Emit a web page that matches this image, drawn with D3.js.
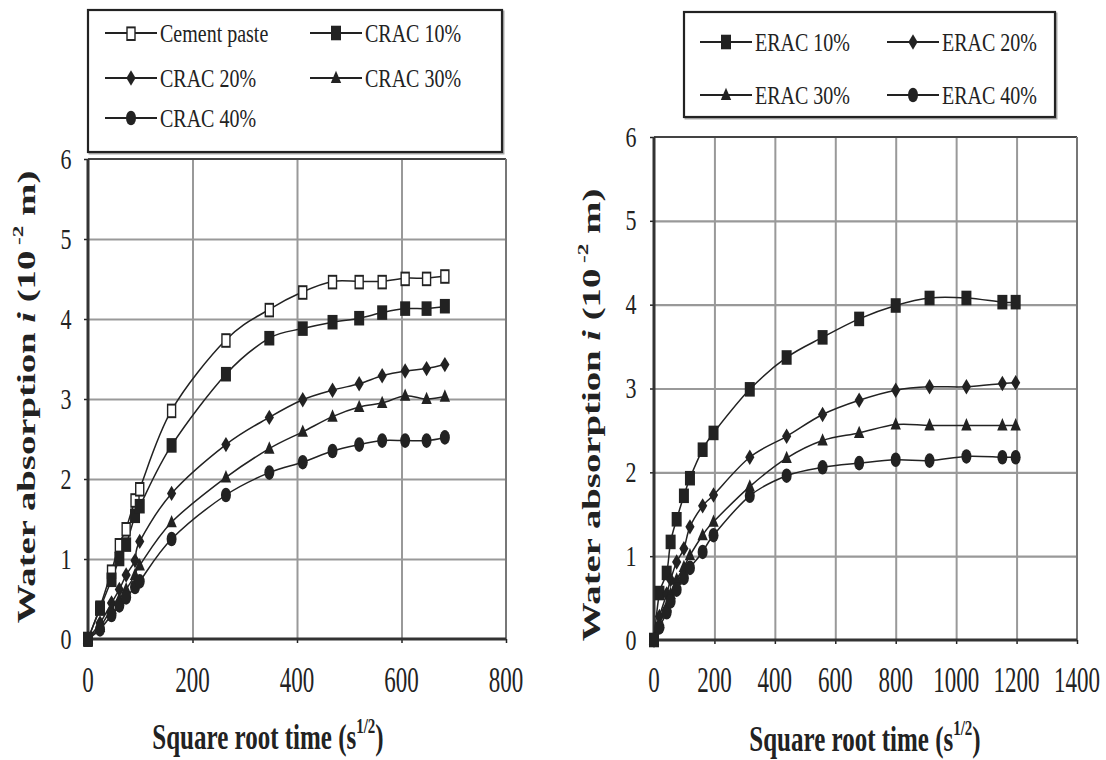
<!DOCTYPE html>
<html><head><meta charset="utf-8">
<script src="https://cdn.jsdelivr.net/npm/d3@7"></script>
<style>
html,body{margin:0;padding:0;background:#fff;}
svg{display:block;font-family:"Liberation Serif","Times New Roman",serif;}
</style></head>
<body><svg id="c" width="1106" height="760"></svg>
<script>
// ---------- DATA ----------
// Left panel (CRAC)
const leftX = [0, 23, 45, 60, 73, 90, 99, 160, 264, 347, 411, 468, 519, 563, 607, 648, 683];
const cementPaste = [0, 0.40, 0.85, 1.18, 1.38, 1.74, 1.88, 2.86, 3.74, 4.12, 4.34, 4.47, 4.47, 4.47, 4.51, 4.51, 4.54];
const crac10 = [0, 0.38, 0.74, 1.00, 1.18, 1.54, 1.66, 2.42, 3.31, 3.76, 3.88, 3.96, 4.01, 4.08, 4.13, 4.13, 4.16];
const crac20 = [0, 0.20, 0.45, 0.62, 0.80, 0.98, 1.22, 1.82, 2.43, 2.77, 2.99, 3.11, 3.19, 3.29, 3.35, 3.38, 3.43];
const crac30 = [0, 0.15, 0.38, 0.50, 0.62, 0.80, 0.92, 1.46, 2.02, 2.38, 2.59, 2.78, 2.90, 2.95, 3.04, 3.00, 3.03];
const crac40 = [0, 0.12, 0.30, 0.42, 0.52, 0.65, 0.72, 1.25, 1.80, 2.08, 2.21, 2.35, 2.43, 2.48, 2.48, 2.48, 2.52];
const leftNames = ["Cement paste", "CRAC 10%", "CRAC 20%", "CRAC 30%", "CRAC 40%"];
const leftMarkers = ["openSquare", "square", "diamond", "triangle", "circle"];

// Right panel (ERAC)
const rightX = [0, 18, 42, 55, 75, 99, 119, 161, 197, 317, 439, 558, 679, 800, 912, 1034, 1153, 1197];
const erac10 = [0, 0.56, 0.80, 1.17, 1.44, 1.72, 1.93, 2.27, 2.47, 2.99, 3.37, 3.61, 3.83, 3.99, 4.08, 4.08, 4.03, 4.03];
const erac20 = [0, 0.28, 0.55, 0.72, 0.93, 1.09, 1.35, 1.60, 1.73, 2.18, 2.43, 2.69, 2.86, 2.98, 3.02, 3.02, 3.06, 3.07];
const erac30 = [0, 0.20, 0.40, 0.55, 0.72, 0.87, 1.01, 1.25, 1.41, 1.83, 2.17, 2.38, 2.47, 2.57, 2.56, 2.56, 2.56, 2.56];
const erac40 = [0, 0.15, 0.33, 0.46, 0.60, 0.74, 0.86, 1.05, 1.25, 1.72, 1.96, 2.06, 2.11, 2.15, 2.14, 2.19, 2.18, 2.18];
const rightNames = ["ERAC 10%", "ERAC 20%", "ERAC 30%", "ERAC 40%"];
const rightMarkers = ["square", "diamond", "triangle", "circle"];

const leftXTicks = [0, 200, 400, 600, 800];
const rightXTicks = [0, 200, 400, 600, 800, 1000, 1200, 1400];
const yTicks = [0, 1, 2, 3, 4, 5, 6];
const xTitle = "Square root time (s";
const xTitleSup = "1/2";

// ---------- DRAW ----------
const svg = d3.select("#c");
const INK = "#222";
const GRID = "#999";

function marker(g, type, x, y) {
  const t = `translate(${x},${y}) scale(1,1.4)`;
  if (type === "openSquare") {
    g.append("rect").attr("x", -4).attr("y", -4).attr("width", 8).attr("height", 9)
      .attr("transform", t).attr("fill", "#fff").attr("stroke", INK).attr("stroke-width", 1.4);
  } else if (type === "square") {
    g.append("rect").attr("x", -5).attr("y", -5.2).attr("width", 10).attr("height", 10.4)
      .attr("transform", t).attr("fill", INK);
  } else if (type === "diamond") {
    g.append("path").attr("d", "M0,-5.5L4.6,0L0,5.5L-4.6,0Z").attr("transform", t).attr("fill", INK);
  } else if (type === "triangle") {
    g.append("path").attr("d", "M0,-5.2L5.2,3.6L-5.2,3.6Z").attr("transform", t).attr("fill", INK);
  } else if (type === "circle") {
    g.append("ellipse").attr("rx", 5).attr("ry", 5.2).attr("transform", t).attr("fill", INK);
  }
}

function panel(cfg) {
  const { x, y, xTicks, series, names, markers, xs, yLabelX, xLabelY, titleX, titleY, yTitleX, yTitleY } = cfg;
  const g = svg.append("g");
  const [x0, x1] = x.range();
  const [y0, y1] = y.range(); // y0 bottom, y1 top
  // plot bg
  g.append("rect").attr("x", x0).attr("y", y1).attr("width", x1 - x0).attr("height", y0 - y1)
    .attr("fill", "#fff");
  // gridlines
  g.append("g").attr("transform", `translate(0,${y0})`)
    .call(d3.axisBottom(x).tickValues(xTicks.slice(1, -1)).tickSize(-(y0 - y1)).tickFormat(""))
    .call(s => s.select(".domain").remove())
    .call(s => s.selectAll("line").attr("stroke", GRID).attr("stroke-width", 2));
  g.append("g").attr("transform", `translate(${x0},0)`)
    .call(d3.axisLeft(y).tickValues(yTicks.slice(1, -1)).tickSize(-(x1 - x0)).tickFormat(""))
    .call(s => s.select(".domain").remove())
    .call(s => s.selectAll("line").attr("stroke", GRID).attr("stroke-width", 2.2));
  // small outer ticks
  g.append("g").attr("transform", `translate(${x0},0)`)
    .call(d3.axisLeft(y).tickValues(yTicks).tickSize(4).tickFormat(""))
    .call(s => s.select(".domain").remove())
    .call(s => s.selectAll("line").attr("stroke", INK).attr("stroke-width", 1.5));
  g.append("g").attr("transform", `translate(0,${y0})`)
    .call(d3.axisBottom(x).tickValues(xTicks).tickSize(4).tickFormat(""))
    .call(s => s.select(".domain").remove())
    .call(s => s.selectAll("line").attr("stroke", INK).attr("stroke-width", 1.5));
  // frame
  g.append("line").attr("x1", x0).attr("x2", x1).attr("y1", y1).attr("y2", y1)
    .attr("stroke", "#444").attr("stroke-width", 2);
  g.append("line").attr("x1", x1).attr("x2", x1).attr("y1", y1).attr("y2", y0)
    .attr("stroke", "#777").attr("stroke-width", 2);
  g.append("line").attr("x1", x0).attr("x2", x1).attr("y1", y0).attr("y2", y0)
    .attr("stroke", "#333").attr("stroke-width", 3);
  g.append("line").attr("x1", x0).attr("x2", x0).attr("y1", y1).attr("y2", y0 + 1.5)
    .attr("stroke", "#333").attr("stroke-width", 3);

  // series lines
  const line = d3.line().x((d, i) => x(xs[i])).y(d => y(d)).curve(d3.curveCardinal.tension(0));
  series.forEach((s, k) => {
    g.append("path").attr("d", line(s)).attr("fill", "none").attr("stroke", INK).attr("stroke-width", 1.5);
  });
  series.forEach((s, k) => {
    const mg = g.append("g");
    s.forEach((v, i) => marker(mg, markers[k], x(xs[i]), y(v)));
  });

  // tick labels
  yTicks.forEach(v => {
    g.append("text").attr("transform", `translate(${yLabelX},${y(v)}) scale(1,1.35)`)
      .attr("text-anchor", "middle").attr("dominant-baseline", "central")
      .attr("font-size", 22).attr("fill", INK).text(v);
  });
  xTicks.forEach(v => {
    g.append("text").attr("transform", `translate(${x(v)},${xLabelY}) scale(1,1.55)`)
      .attr("text-anchor", "middle").attr("dominant-baseline", "central")
      .attr("font-size", 23).attr("fill", INK).text(v);
  });
  // x title
  const xt = g.append("text").attr("transform", `translate(${titleX},${titleY}) scale(1,1.4)`)
    .attr("text-anchor", "middle").attr("dominant-baseline", "central")
    .attr("font-size", 25).attr("font-weight", "bold").attr("fill", INK);
  xt.append("tspan").text(xTitle);
  xt.append("tspan").attr("font-size", 15).attr("dy", -8).text(xTitleSup);
  xt.append("tspan").attr("dy", 8).text(")");
  // y title
  const yt = g.append("text").attr("transform", `translate(${yTitleX},${yTitleY}) rotate(-90) scale(1.55,1)`)
    .attr("text-anchor", "middle").attr("dominant-baseline", "central")
    .attr("font-size", 25).attr("font-weight", "bold").attr("fill", INK);
  yt.append("tspan").text("Water absorption ");
  yt.append("tspan").attr("font-style", "italic").text("i");
  yt.append("tspan").text(" (10");
  yt.append("tspan").attr("font-size", 15).attr("dy", -9).text(" -2");
  yt.append("tspan").attr("dy", 9).text(" m)");
}

function legend(box, items) {
  const g = svg.append("g");
  g.append("rect").attr("x", box[0] + 1.5).attr("y", box[1] + 1.5).attr("width", box[2] - box[0])
    .attr("height", box[3] - box[1]).attr("fill", "none").attr("stroke", "#aaa").attr("stroke-width", 2);
  g.append("rect").attr("x", box[0]).attr("y", box[1]).attr("width", box[2] - box[0])
    .attr("height", box[3] - box[1]).attr("fill", "#fff").attr("stroke", "#222").attr("stroke-width", 2.2);
  items.forEach(it => {
    g.append("line").attr("x1", it.x).attr("x2", it.x + 52).attr("y1", it.y).attr("y2", it.y)
      .attr("stroke", INK).attr("stroke-width", 2);
    marker(g, it.m, it.x + 26, it.y);
    g.append("text").attr("transform", `translate(${it.x + 55},${it.y}) scale(1,1.3)`)
      .attr("dominant-baseline", "central").attr("font-size", 20).attr("fill", INK).text(it.name);
  });
}

// Left panel
panel({
  x: d3.scaleLinear([0, 800], [88, 506]),
  y: d3.scaleLinear([0, 6], [639, 159]),
  xTicks: leftXTicks,
  series: [cementPaste, crac10, crac20, crac30, crac40],
  names: leftNames, markers: leftMarkers, xs: leftX,
  yLabelX: 66, xLabelY: 680, titleX: 268, titleY: 737, yTitleX: 27, yTitleY: 397
});
// Right panel
panel({
  x: d3.scaleLinear([0, 1400], [654, 1077]),
  y: d3.scaleLinear([0, 6], [640, 137]),
  xTicks: rightXTicks,
  series: [erac10, erac20, erac30, erac40],
  names: rightNames, markers: rightMarkers, xs: rightX,
  yLabelX: 631, xLabelY: 680, titleX: 865, titleY: 739, yTitleX: 592, yTitleY: 415
});

// Legends
const lCols = [105, 310], lRows = [33, 78, 118];
legend([88, 10, 502, 152], leftNames.map((n, i) => ({
  name: n, m: leftMarkers[i], x: lCols[i % 2], y: lRows[Math.floor(i / 2)]
})));
const rCols = [700, 887], rRows = [42, 95];
legend([684, 12, 1055, 117], rightNames.map((n, i) => ({
  name: n, m: rightMarkers[i], x: rCols[i % 2], y: rRows[Math.floor(i / 2)]
})));
</script></body></html>
